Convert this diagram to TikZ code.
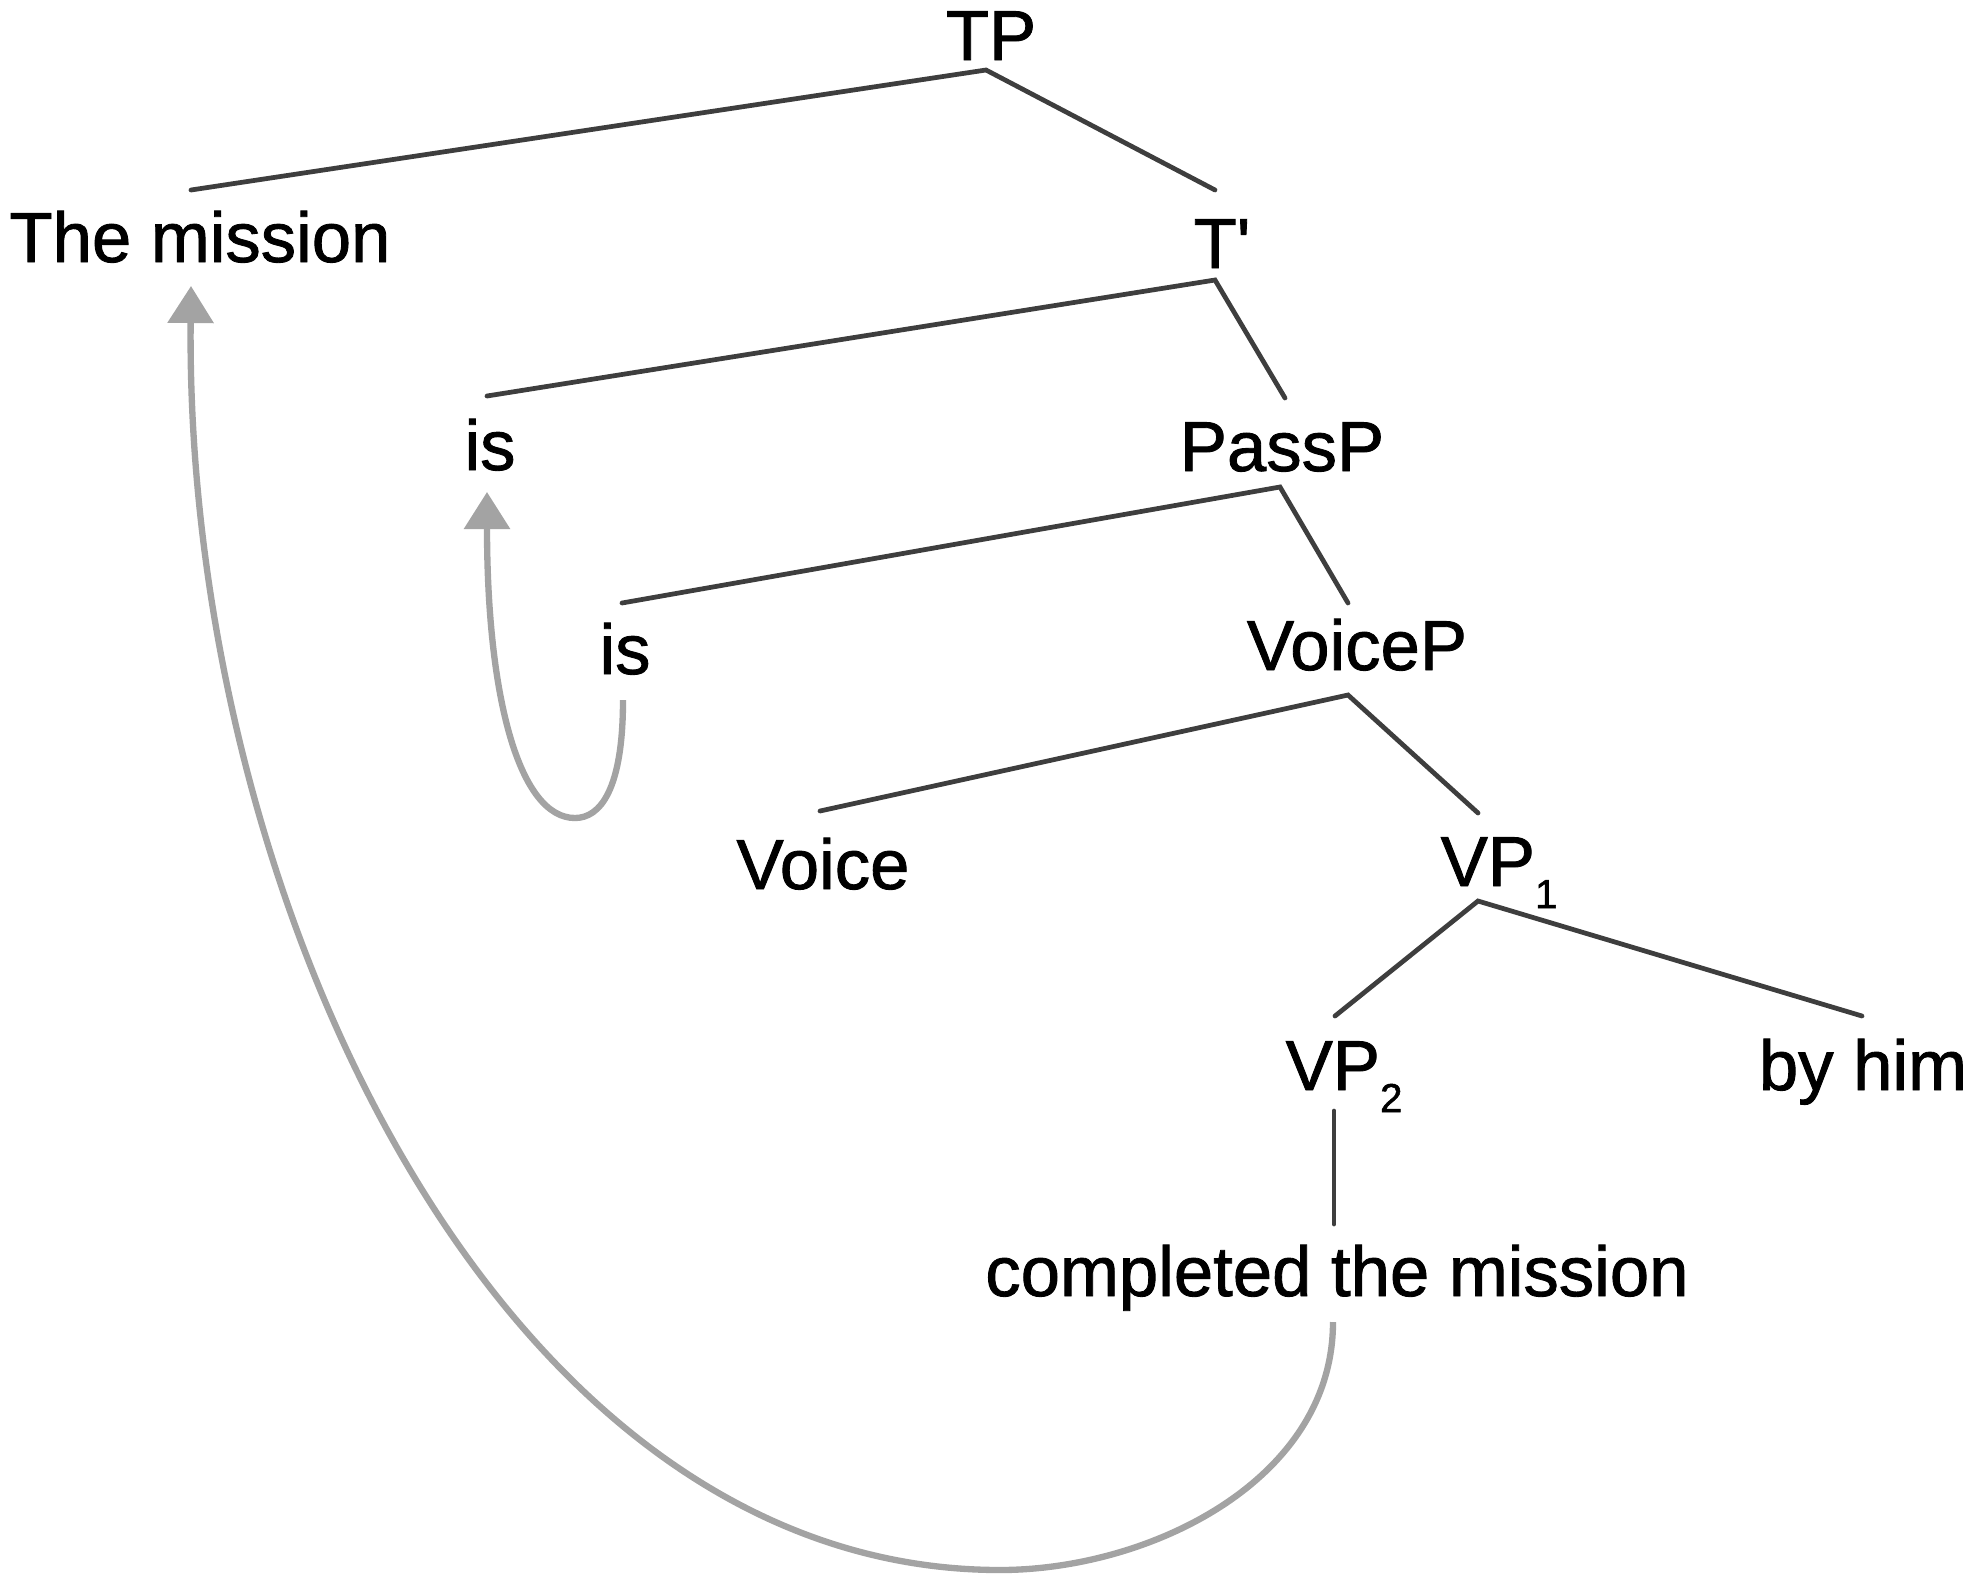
\documentclass[tikz,border=0pt]{standalone}
\usepackage{fontspec}
\setmainfont{Liberation Sans}
\newfontfamily\lblfont{Liberation Sans}[UprightFeatures={FakeBold=1.2}]
\usetikzlibrary{arrows.meta}
\definecolor{treeline}{RGB}{62,62,62}
\definecolor{movegray}{RGB}{163,163,163}
\newcommand\treesub[1]{\raisebox{-0.22cm}{\fontsize{11.5pt}{13pt}\selectfont #1}}
\begin{document}
\begin{tikzpicture}[x=0.01cm,y=-0.01cm,
  lbl/.style={anchor=base,inner sep=0pt,font=\lblfont\fontsize{20.1pt}{24pt}\selectfont},
  branch/.style={draw=treeline,line width=1.35pt,line cap=round},
  movearrow/.style={draw=movegray,line width=1.8pt,-{Triangle[length=0.37cm,width=0.45cm]}}]
\useasboundingbox (0,0) rectangle (1969,1581);

% labels
\node[lbl] (TP) at (991,60) {TP};
\node[lbl] (mission) at (200,262) {The mission};
\node[lbl] (Tbar) at (1222,268) {T\textquotesingle};
\node[lbl] (isA) at (490,470) {is};
\node[lbl] (PassP) at (1282,471) {PassP};
\node[lbl] (isB) at (625,674) {is};
\node[lbl] (VoiceP) at (1357,670) {VoiceP};
\node[lbl] (Voice) at (823,889) {Voice};
\node[lbl,anchor=base west] (VPone) at (1440,886) {VP\treesub{1}};
\node[lbl,anchor=base west] (VPtwo) at (1285,1090) {VP\treesub{2}};
\node[lbl] (byhim) at (1863,1090) {by him};
\node[lbl] (completed) at (1337,1296) {completed the mission};

% attachment points
\coordinate (TPa) at ([shift={(-5,10)}]TP.base);
\coordinate (missiontop) at ([shift={(-9,-72)}]mission.base);
\coordinate (missiontip) at ([shift={(-9,24)}]mission.base);
\coordinate (Tbartop) at ([shift={(-7,-78)}]Tbar.base);
\coordinate (Tbara) at ([shift={(-7,12)}]Tbar.base);
\coordinate (isAtop) at ([shift={(-3,-74)}]isA.base);
\coordinate (isAtip) at ([shift={(-3,22)}]isA.base);
\coordinate (PassPtop) at ([shift={(3,-73)}]PassP.base);
\coordinate (PassPa) at ([shift={(-2,16)}]PassP.base);
\coordinate (isBtop) at ([shift={(-3,-71)}]isB.base);
\coordinate (isBstart) at ([shift={(-2,26)}]isB.base);
\coordinate (VoicePtop) at ([shift={(-9,-67)}]VoiceP.base);
\coordinate (VoicePa) at ([shift={(-9,25)}]VoiceP.base);
\coordinate (Voicetop) at ([shift={(-3,-78)}]Voice.base);
\coordinate (VPonetop) at ([shift={(38,-73)}]VPone.base west);
\coordinate (VPonea) at ([shift={(38,15)}]VPone.base west);
\coordinate (VPtwotop) at ([shift={(50,-74)}]VPtwo.base west);
\coordinate (VPtwoa) at ([shift={(49,21)}]VPtwo.base west);
\coordinate (byhimtop) at ([shift={(-1,-74)}]byhim.base);
\coordinate (completedtop) at ([shift={(-3,-72)}]completed.base);
\coordinate (completedstart) at ([shift={(-4,26)}]completed.base);
\coordinate (bigbottom) at (1000,1570);
\coordinate (smallbottom) at (575,818);

% branches
\draw[branch] (missiontop) -- (TPa) -- (Tbartop);
\draw[branch] (isAtop) -- (Tbara) -- (PassPtop);
\draw[branch] (isBtop) -- (PassPa) -- (VoicePtop);
\draw[branch] (Voicetop) -- (VoicePa) -- (VPonetop);
\draw[branch] (VPtwotop) -- (VPonea) -- (byhimtop);
\draw[branch] (VPtwoa) -- (completedtop);

% movement arrows
\draw[movearrow] (completedstart) .. controls +(0,158) and (1150,1570) .. (bigbottom)
  .. controls (500,1570) and (185,900) .. (missiontip);
\draw[movearrow] (isBstart) .. controls (623,790) and (600,818) .. (smallbottom)
  .. controls (520,818) and (487,700) .. (isAtip);
\end{tikzpicture}
\end{document}
